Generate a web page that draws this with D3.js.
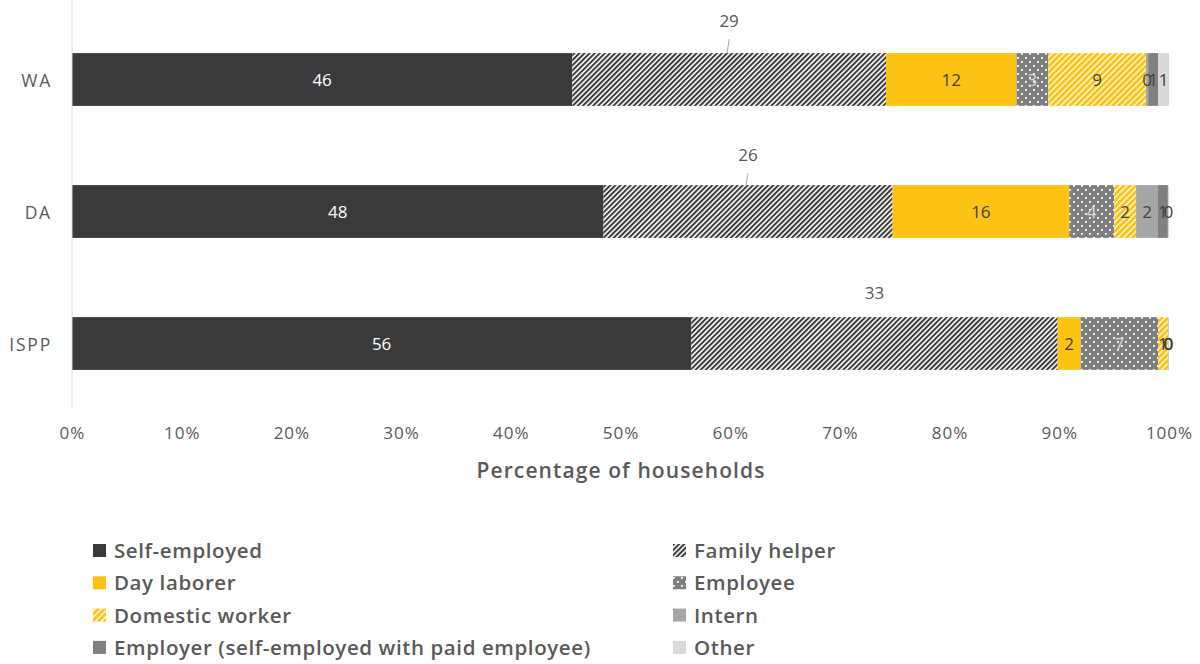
<!DOCTYPE html>
<html>
<head>
<meta charset="utf-8">
<script src="https://cdn.jsdelivr.net/npm/d3@7"></script>
<style>
  html, body { margin: 0; padding: 0; background: #fff; }
  svg { display: block; font-family: "Open Sans", Lato, sans-serif; }
</style>
</head>
<body>
<svg id="chart" width="1200" height="664"></svg>
<script>
// Share of households by employment type, per area (percent)
const categories = ["WA", "DA", "ISPP"];
const seriesNames = ["Self-employed", "Family helper", "Day laborer", "Employee",
                     "Domestic worker", "Intern", "Employer (self-employed with paid employee)", "Other"];
const selfEmployed   = [45.6, 48.45, 56.45];
const familyHelper   = [28.6, 26.35, 33.4];
const dayLaborer     = [11.9, 16.1, 2.1];
const employee       = [2.9, 4.1, 7.05];
const domesticWorker = [8.9, 2.0, 0.9];
const intern         = [0.2, 2.0, 0.03];
const employer       = [0.9, 0.9, 0.03];
const other          = [1.0, 0.1, 0.03];
const xTicks = [0, 10, 20, 30, 40, 50, 60, 70, 80, 90, 100];
const xTickLabels = xTicks.map(t => t + "%");
const axisTitle = "Percentage of households";

const seriesValues = [selfEmployed, familyHelper, dayLaborer, employee,
                      domesticWorker, intern, employer, other];

const rows = categories.map((c, i) => {
  const r = { category: c };
  seriesNames.forEach((s, j) => r[s] = seriesValues[j][i]);
  return r;
});

const svg = d3.select("#chart");
const defs = svg.append("defs");

// Fill patterns
function stripes(id, period, lineW, fg, bg) {
  const p = defs.append("pattern").attr("id", id)
    .attr("patternUnits", "userSpaceOnUse")
    .attr("width", period).attr("height", 10)
    .attr("patternTransform", "rotate(45)");
  p.append("rect").attr("width", period).attr("height", 10).attr("fill", bg);
  p.append("rect").attr("width", lineW).attr("height", 10).attr("fill", fg);
}
stripes("pFamily", 3.6, 2.0, "#3a3a3a", "#ffffff");
stripes("pDomestic", 4.3, 3.0, "#fcc214", "#ffffff");
const dots = defs.append("pattern").attr("id", "pEmployee")
  .attr("patternUnits", "userSpaceOnUse").attr("width", 8).attr("height", 8);
dots.append("rect").attr("width", 8).attr("height", 8).attr("fill", "#7f7f7f");
dots.append("rect").attr("x", 1).attr("y", 1).attr("width", 1.8).attr("height", 1.8).attr("fill", "#ffffff");
dots.append("rect").attr("x", 5).attr("y", 5).attr("width", 1.8).attr("height", 1.8).attr("fill", "#ffffff");

const fills = {
  "Self-employed": "#3a3a3a",
  "Family helper": "url(#pFamily)",
  "Day laborer": "#fcc214",
  "Employee": "url(#pEmployee)",
  "Domestic worker": "url(#pDomestic)",
  "Intern": "#a6a6a6",
  "Employer (self-employed with paid employee)": "#808080",
  "Other": "#d9d9d9"
};
const labelColors = {
  "Self-employed": "#ffffff",
  "Family helper": "#595959",
  "Day laborer": "#404040",
  "Employee": "#d9d9d9",
  "Domestic worker": "#404040",
  "Intern": "#404040",
  "Employer (self-employed with paid employee)": "#404040",
  "Other": "#404040"
};

const x = d3.scaleLinear().domain([0, 100]).range([72, 1169]);
const y = d3.scaleBand().domain(categories).range([13.5, 409.5])
  .paddingInner(0.6).paddingOuter(0.3);

const stacked = d3.stack().keys(seriesNames)(rows);

// Bars
const layers = svg.append("g").selectAll("g").data(stacked).join("g")
  .attr("fill", d => fills[d.key]);
layers.selectAll("rect").data(d => d).join("rect")
  .attr("x", d => x(d[0]))
  .attr("y", d => y(d.data.category))
  .attr("width", d => Math.max(0, x(d[1]) - x(d[0])))
  .attr("height", y.bandwidth());

// Vertical axis line and category labels
svg.append("line").attr("x1", x(0)).attr("x2", x(0)).attr("y1", 0).attr("y2", 408)
  .attr("stroke", "#d9d9d9").attr("stroke-width", 1);
svg.append("g").selectAll("text").data(categories).join("text")
  .attr("x", 52).attr("y", d => y(d) + y.bandwidth() / 2)
  .attr("text-anchor", "end").attr("dominant-baseline", "central")
  .attr("font-size", 17.5).attr("letter-spacing", 1.8).attr("fill", "#595959").text(d => d);

// Horizontal axis tick labels
const xAxis = d3.axisBottom(x).tickValues(xTicks)
  .tickFormat((d, i) => xTickLabels[i]).tickSize(0).tickPadding(0);
const gx = svg.append("g").attr("transform", "translate(0,427)").call(xAxis);
gx.select(".domain").remove();
gx.selectAll("text").attr("font-size", 17).attr("fill", "#595959")
  .attr("letter-spacing", 1)
  .attr("font-family", "'Open Sans', sans-serif");

svg.append("text").attr("x", 621).attr("y", 470)
  .attr("text-anchor", "middle").attr("dominant-baseline", "central")
  .attr("font-size", 21).attr("font-weight", 600).attr("letter-spacing", 1.1)
  .attr("fill", "#595959")
  .text(axisTitle);

// Data labels
const fmt = d3.format(".0f");
const liftAbove = { "WA": 33, "DA": 31, "ISPP": 25 };
const labels = svg.append("g");
stacked.forEach(layer => {
  layer.forEach(d => {
    const cat = d.data.category;
    const cx = (x(d[0]) + x(d[1])) / 2;
    const top = y(cat);
    const mid = top + y.bandwidth() / 2;
    if (layer.key === "Family helper") {
      const ly = top - liftAbove[cat];
      labels.append("text").attr("x", cx).attr("y", ly)
        .attr("text-anchor", "middle").attr("dominant-baseline", "central")
        .attr("font-size", 17).attr("fill", labelColors[layer.key])
        .text(fmt(d[1] - d[0]));
      if (cat !== "ISPP") {
        labels.append("line").attr("x1", cx).attr("x2", cx - 2)
          .attr("y1", ly + 19).attr("y2", top)
          .attr("stroke", "#a6a6a6").attr("stroke-width", 1);
      }
    } else {
      labels.append("text").attr("x", cx).attr("y", mid)
        .attr("text-anchor", "middle").attr("dominant-baseline", "central")
        .attr("font-size", 17).attr("fill", labelColors[layer.key])
        .text(fmt(d[1] - d[0]));
    }
  });
});

// Legend: two columns
const legendCols = [
  ["Self-employed", "Day laborer", "Domestic worker", "Employer (self-employed with paid employee)"],
  ["Family helper", "Employee", "Intern", "Other"]
];
const colX = [93, 673];
const legend = svg.append("g");
legendCols.forEach((col, ci) => {
  col.forEach((name, ri) => {
    const cy = 550 + ri * 32.3;
    legend.append("rect").attr("x", colX[ci]).attr("y", cy - 6)
      .attr("width", 13).attr("height", 13).attr("fill", fills[name]);
    legend.append("text").attr("x", colX[ci] + 21).attr("y", cy)
      .attr("dominant-baseline", "central")
      .attr("font-size", 20.5).attr("font-weight", 600).attr("letter-spacing", 0.6)
      .attr("fill", "#595959")
      .text(name);
  });
});
</script>
</body>
</html>
